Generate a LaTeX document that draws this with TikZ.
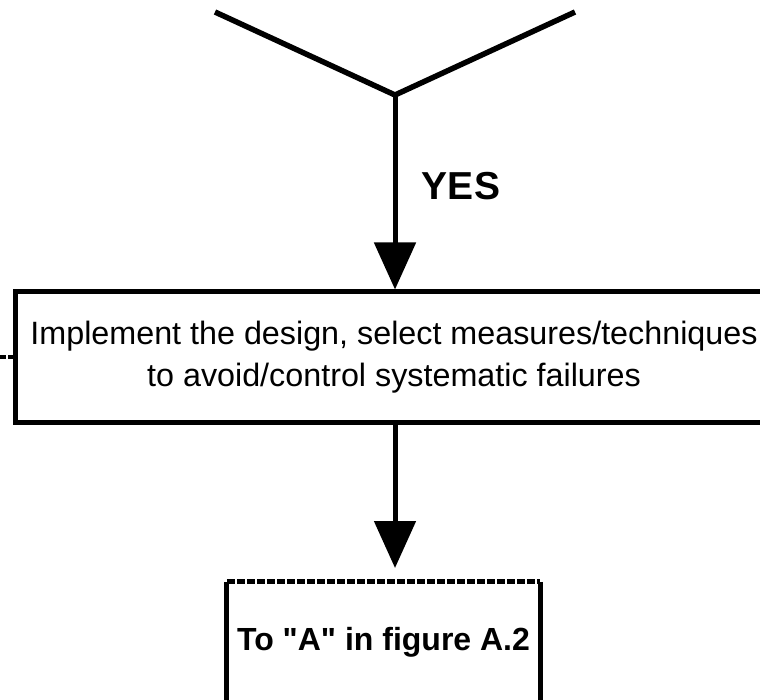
\documentclass[tikz,border=0pt]{standalone}
\usepackage{fontspec}
\setmainfont{Liberation Sans}[Ligatures=TeXOff]
\usetikzlibrary{arrows.meta}
\begin{document}
\begin{tikzpicture}[x=1pt,y=-1pt,
  flow/.style={line width=5pt,-{Triangle[length=47pt,width=41pt]}},
  taskbox/.style={draw,line width=5pt,rectangle,inner sep=0pt,align=center,
    font=\fontsize{32.3}{42}\selectfont},
  linkbox/.style={rectangle,inner sep=0pt,
    font=\bfseries\fontsize{32}{38}\selectfont},
  linkside/.style={line width=5pt},
  linktop/.style={line width=5pt,dash pattern=on 8pt off 2pt},
  label/.style={font=\bfseries\fontsize{39}{44}\selectfont,inner sep=0pt}]
\useasboundingbox (0,0) rectangle (760,700);
\clip (0,0) rectangle (760,700);

% lower half of the decision diamond
\coordinate (dl) at (215,12);
\coordinate (dr) at (575,12);
\coordinate (dv) at (395,95);
\draw[line width=5.5pt] (dl) -- (dv) -- (dr);

% process box
\node[taskbox,minimum width=758pt,minimum height=130pt] (impl) at (394,357)
  {Implement the design, select measures/techniques\\to avoid/control systematic failures};

% off-page connector box: dashed top, solid sides
\node[linkbox,minimum width=313pt,minimum height=120pt] (tobox) at (383.5,642)
  {To "A" in figure A.2};
\draw[linkside] (tobox.north west) -- (tobox.south west);
\draw[linkside] (tobox.north east) -- (tobox.south east);
\draw[linktop] (tobox.north west) -- (tobox.north east);
\draw[linktop] (tobox.south west) -- (tobox.south east);

% YES branch label
\node[label,anchor=base] (yes) at (461,200) {YES};

% connectors
\draw[flow] (dv) -- (dv |- impl.north);
\coordinate (tip2) at (395,568);
\draw[flow] (dv |- impl.south) -- (tip2);
\coordinate (lin) at (0,357);
\draw[line width=3.5pt,dash pattern=on 6pt off 2pt] (lin) -- (impl.west);
\end{tikzpicture}
\end{document}
